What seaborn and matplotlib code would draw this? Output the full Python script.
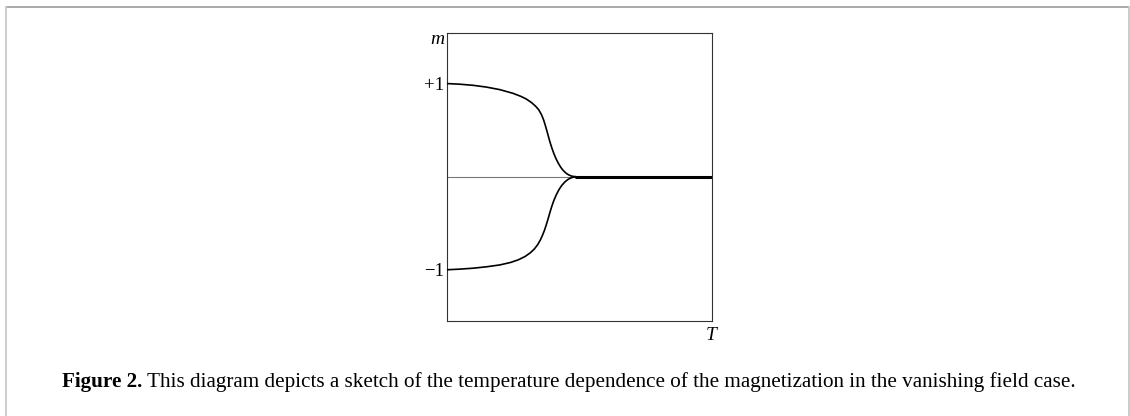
import matplotlib
matplotlib.use("Agg")
import matplotlib.pyplot as plt
from matplotlib.lines import Line2D
import seaborn as sns

# curva superior (m > 0)
T_sup = [0, 0.05, 0.10, 0.15, 0.20, 0.25, 0.28, 0.30, 0.32, 0.335, 0.347, 0.357,
         0.365, 0.372, 0.378, 0.384, 0.390, 0.397, 0.404, 0.412, 0.421, 0.430,
         0.440, 0.450, 0.460, 0.470, 0.480, 0.487]
m_sup = [1.0, 0.993, 0.981, 0.962, 0.935, 0.895, 0.862, 0.834, 0.795, 0.757, 0.718, 0.668,
         0.612, 0.548, 0.488, 0.425, 0.365, 0.303, 0.248, 0.193, 0.143, 0.10,
         0.064, 0.037, 0.019, 0.007, 0.001, 0.0]

# curva inferior (m < 0)
T_inf = [0, 0.05, 0.10, 0.15, 0.20, 0.24, 0.27, 0.295, 0.315, 0.330, 0.343, 0.353,
         0.361, 0.368, 0.375, 0.382, 0.389, 0.396, 0.404, 0.413, 0.423, 0.434,
         0.446, 0.458, 0.470, 0.480, 0.487]
m_inf = [-1.0, -0.993, -0.983, -0.968, -0.948, -0.922, -0.893, -0.858, -0.818, -0.778, -0.73, -0.68,
         -0.63, -0.58, -0.52, -0.455, -0.385, -0.32, -0.255, -0.195, -0.14, -0.093,
         -0.055, -0.028, -0.011, -0.003, 0.0]

# fase desordenada acima de Tc
T_plano = [0.487, 1.0]
m_plano = [0.0, 0.0]

y_ticks = [-1, 1]
y_labels = ['\u22121', '+1']

legenda = ("This diagram depicts a sketch of the temperature dependence "
           "of the magnetization in the vanishing field case.")

sns.set_theme(style="white")
plt.rcParams['font.family'] = ['Liberation Serif', 'DejaVu Serif']
plt.rcParams['text.color'] = 'black'
plt.rcParams['ytick.color'] = 'black'

fig = plt.figure(figsize=(11.3, 4.16), dpi=100)
ax = fig.add_axes([0.3953, 0.2284, 0.2348, 0.6916])

ax.axhline(0, color='#777777', lw=0.8, zorder=1)
sns.lineplot(x=T_sup, y=m_sup, ax=ax, color='black', lw=1.2, sort=False, zorder=3)
sns.lineplot(x=T_inf, y=m_inf, ax=ax, color='black', lw=1.2, sort=False, zorder=3)
sns.lineplot(x=T_plano, y=m_plano, ax=ax, color='black', lw=2.2, sort=False, zorder=4)

ax.set_xlim(0, 1)
ax.set_ylim(-1.55, 1.54)
ax.set_xticks([])
ax.set_yticks(y_ticks)
ax.set_yticklabels(y_labels, fontsize=13.5, color='black')
ax.tick_params(axis='y', length=0, pad=2)
for s in ax.spines.values():
    s.set_visible(True)
    s.set_color('#333333')
    s.set_linewidth(0.8)

ax.text(-0.008, 0.977, 'm', transform=ax.transAxes, ha='right', va='center',
        fontsize=14, fontstyle='italic')
ax.text(0.995, -0.05, 'T', transform=ax.transAxes, ha='center', va='center',
        fontsize=14, fontstyle='italic')

# moldura externa
fig.add_artist(Line2D([6 / 1130, 1129 / 1130], [1 - 6.5 / 416, 1 - 6.5 / 416],
                      transform=fig.transFigure, color='#999999', lw=1.2))
fig.add_artist(Line2D([6 / 1130, 6 / 1130], [0, 1 - 6.5 / 416],
                      transform=fig.transFigure, color='#cccccc', lw=1.4))
fig.add_artist(Line2D([1129 / 1130, 1129 / 1130], [0, 1 - 6.5 / 416],
                      transform=fig.transFigure, color='#cccccc', lw=1.4))

# legenda da figura
t1 = fig.text(61.7 / 1130, 1 - 387 / 416, 'Figure 2.', fontsize=15.2,
              fontweight='bold', va='baseline', ha='left')
fig.canvas.draw()
bb = t1.get_window_extent(renderer=fig.canvas.get_renderer())
fig.text((bb.x1 + 5) / 1130, 1 - 387 / 416, legenda, fontsize=15.2,
         va='baseline', ha='left')

fig.savefig('out.png', dpi=100)
